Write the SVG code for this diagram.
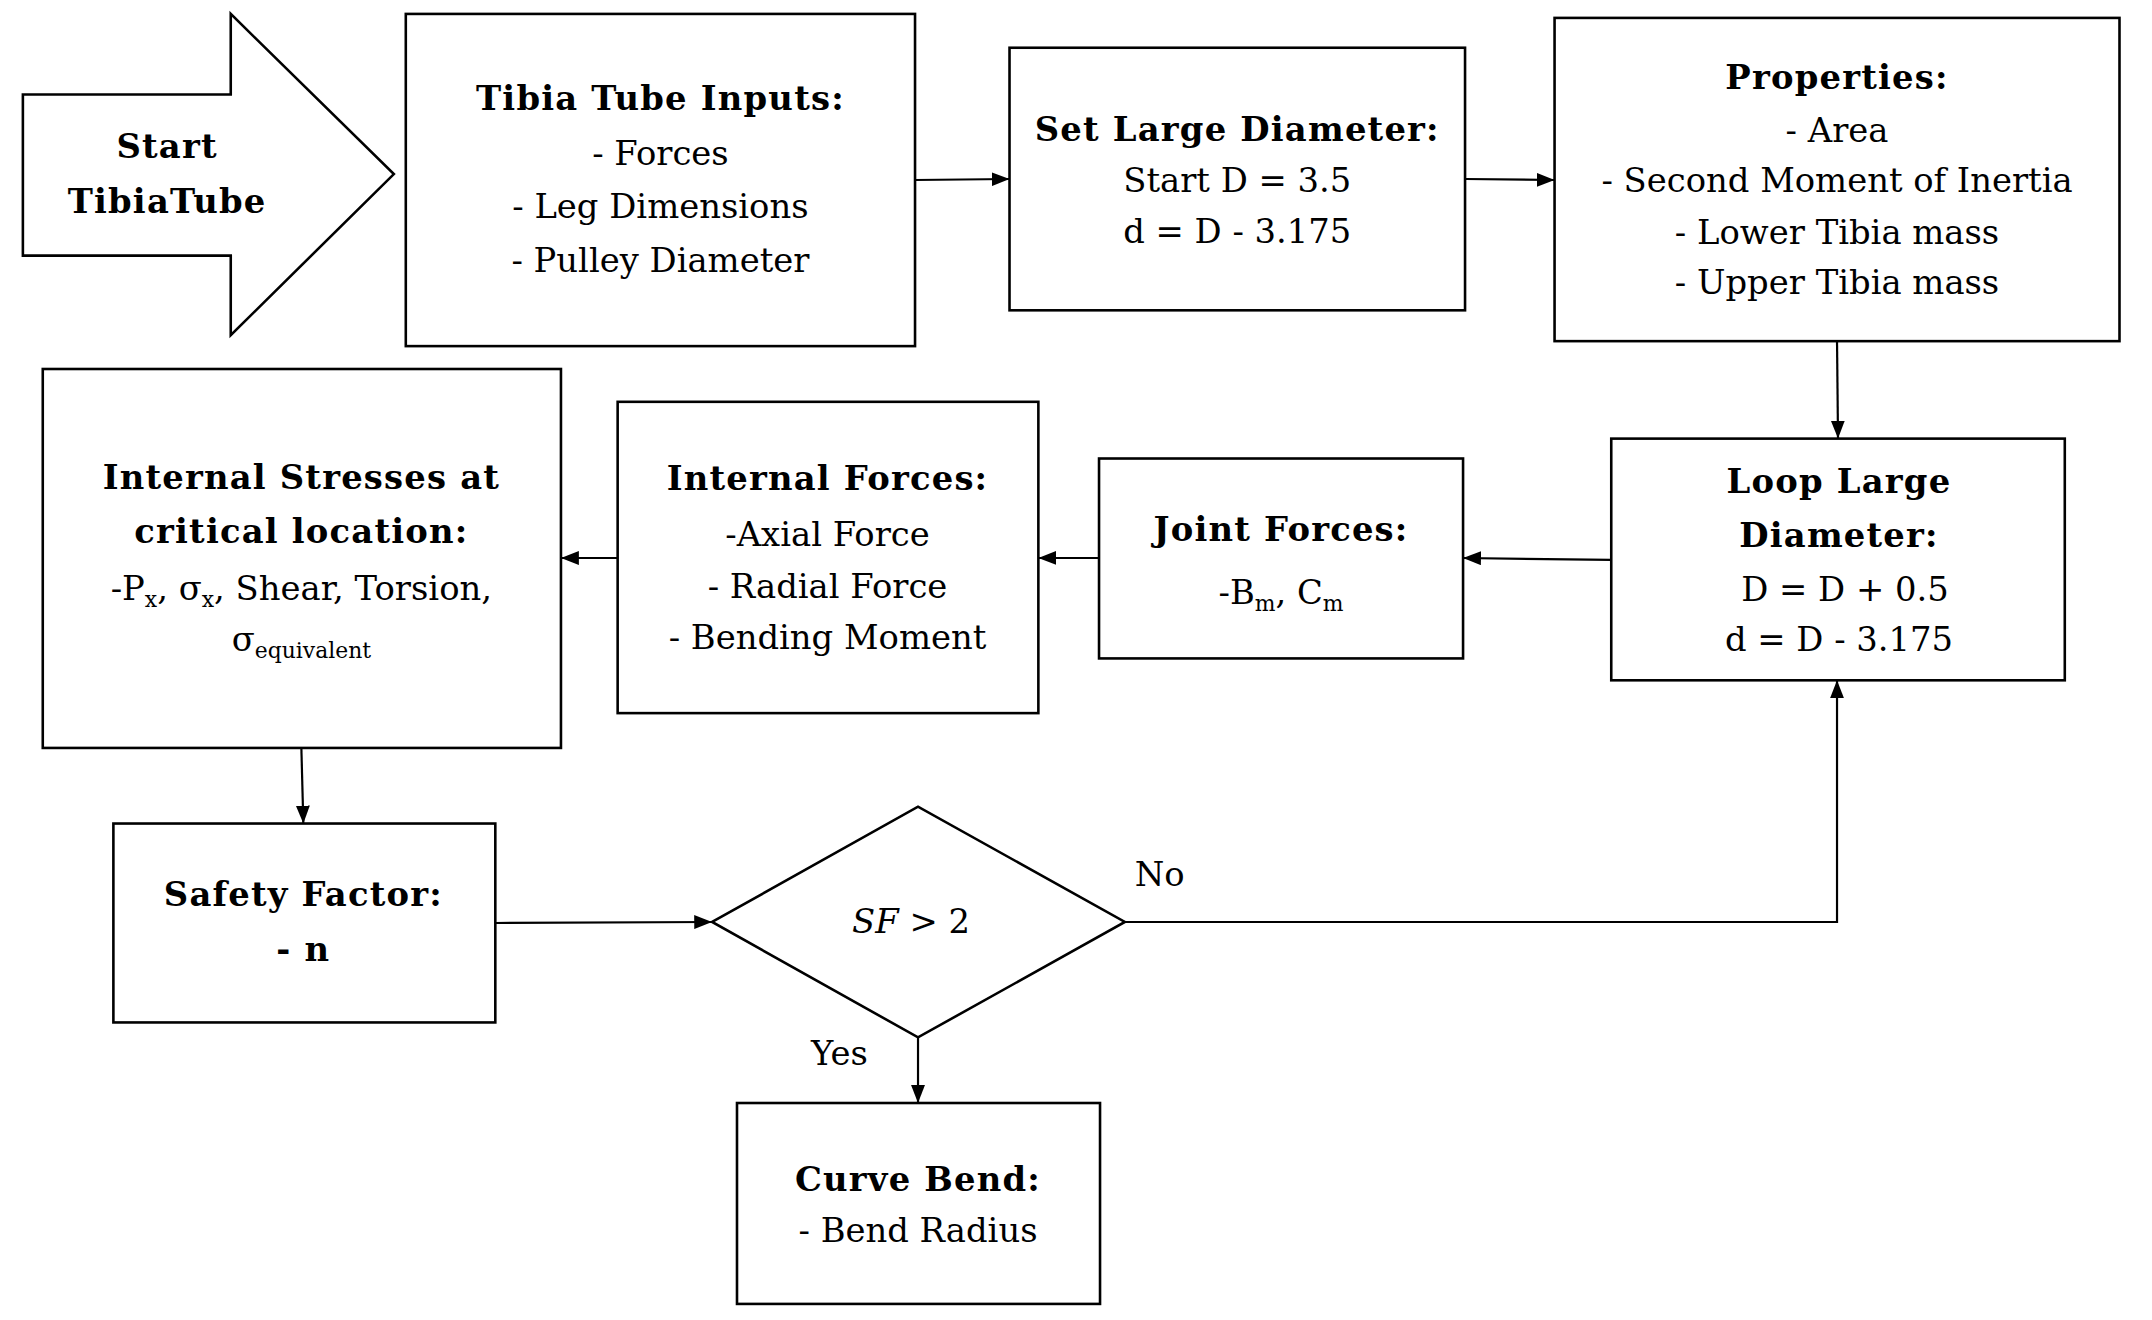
<svg xmlns="http://www.w3.org/2000/svg" width="2152" height="1320" viewBox="0 0 2152 1320">
<style>
  .box { fill: #ffffff; stroke: #000000; stroke-width: 2.6; }
  .t { font-family: "DejaVu Serif", "Liberation Serif", serif; font-size: 34px; fill: #000000; text-anchor: middle; }
  .b { font-weight: bold; letter-spacing: 1.2px; }
  .conn { fill: none; stroke: #000000; stroke-width: 2.2; }
  .sub { font-size: 22px; }
</style>
<defs>
  <marker id="ah" markerUnits="userSpaceOnUse" markerWidth="18" markerHeight="14" refX="18" refY="7" orient="auto">
    <path d="M0,0 L18,7 L0,14 z" fill="#000000"/>
  </marker>
</defs>
<rect x="0" y="0" width="2152" height="1320" fill="#ffffff"/>

<g id="diagram" transform="scale(0.9946)">
<g id="connectors">
  <line class="conn" x1="920" y1="181" x2="1015" y2="180" marker-end="url(#ah)"/>
  <line class="conn" x1="1473" y1="180" x2="1563" y2="181" marker-end="url(#ah)"/>
  <line class="conn" x1="1847" y1="343" x2="1848" y2="441" marker-end="url(#ah)"/>
  <line class="conn" x1="1620" y1="563" x2="1471" y2="561" marker-end="url(#ah)"/>
  <line class="conn" x1="1105" y1="561" x2="1044" y2="561" marker-end="url(#ah)"/>
  <line class="conn" x1="621" y1="561" x2="564" y2="561" marker-end="url(#ah)"/>
  <line class="conn" x1="303" y1="752" x2="305" y2="828" marker-end="url(#ah)"/>
  <line class="conn" x1="498" y1="928" x2="716" y2="927" marker-end="url(#ah)"/>
  <polyline class="conn" points="1131,927 1847,927 1847,684" marker-end="url(#ah)"/>
  <line class="conn" x1="923" y1="1043" x2="923" y2="1109" marker-end="url(#ah)"/>
  <text class="t" x="1166" y="891">No</text>
  <text class="t" x="844" y="1071">Yes</text>
</g>

<g id="start">
  <polygon class="box" points="23,95 232,95 232,14 396,175 232,337 232,257 23,257"/>
  <text class="t b" x="168" y="159">Start</text>
  <text class="t b" x="168" y="214">TibiaTube</text>
</g>

<g id="inputs">
  <rect class="box" x="408" y="14" width="512" height="334"/>
  <text class="t b" x="664" y="111">Tibia Tube Inputs:</text>
  <text class="t" x="664" y="166">- Forces</text>
  <text class="t" x="664" y="219">- Leg Dimensions</text>
  <text class="t" x="664" y="273">- Pulley Diameter</text>
</g>

<g id="setdiameter">
  <rect class="box" x="1015" y="48" width="458" height="264"/>
  <text class="t b" x="1244" y="142">Set Large Diameter:</text>
  <text class="t" x="1244" y="193">Start D = 3.5</text>
  <text class="t" x="1244" y="244">d = D - 3.175</text>
</g>

<g id="properties">
  <rect class="box" x="1563" y="18" width="568" height="325"/>
  <text class="t b" x="1847" y="89">Properties:</text>
  <text class="t" x="1847" y="143">- Area</text>
  <text class="t" x="1847" y="193">- Second Moment of Inertia</text>
  <text class="t" x="1847" y="245">- Lower Tibia mass</text>
  <text class="t" x="1847" y="296">- Upper Tibia mass</text>
</g>

<g id="loop">
  <rect class="box" x="1620" y="441" width="456" height="243"/>
  <text class="t b" x="1849" y="496">Loop Large</text>
  <text class="t b" x="1849" y="550">Diameter:</text>
  <text class="t" x="1855" y="604">D = D + 0.5</text>
  <text class="t" x="1849" y="655">d = D - 3.175</text>
</g>

<g id="joint">
  <rect class="box" x="1105" y="461" width="366" height="201"/>
  <text class="t b" x="1288" y="544">Joint Forces:</text>
  <text class="t" x="1288" y="607">-B<tspan class="sub" dy="7">m</tspan><tspan dy="-7">, C</tspan><tspan class="sub" dy="7">m</tspan></text>
</g>

<g id="internalforces">
  <rect class="box" x="621" y="404" width="423" height="313"/>
  <text class="t b" x="832" y="493">Internal Forces:</text>
  <text class="t" x="832" y="549">-Axial Force</text>
  <text class="t" x="832" y="601">- Radial Force</text>
  <text class="t" x="832" y="653">- Bending Moment</text>
</g>

<g id="stresses">
  <rect class="box" x="43" y="371" width="521" height="381"/>
  <text class="t b" x="303" y="492">Internal Stresses at</text>
  <text class="t b" x="303" y="546">critical location:</text>
  <text class="t" x="303" y="603">-P<tspan class="sub" dy="7">x</tspan><tspan dy="-7">, σ</tspan><tspan class="sub" dy="7">x</tspan><tspan dy="-7">, Shear, Torsion,</tspan></text>
  <text class="t" x="303" y="655">σ<tspan class="sub" dy="7">equivalent</tspan></text>
</g>

<g id="safety">
  <rect class="box" x="114" y="828" width="384" height="200"/>
  <text class="t b" x="305" y="911">Safety Factor:</text>
  <text class="t b" x="305" y="966">- n</text>
</g>

<g id="decision">
  <polygon class="box" points="716,927 923,811 1131,927 923,1043"/>
  <text class="t" x="916" y="938"><tspan font-style="italic">SF</tspan> &gt; 2</text>
</g>

<g id="curvebend">
  <rect class="box" x="741" y="1109" width="365" height="202"/>
  <text class="t b" x="923" y="1197">Curve Bend:</text>
  <text class="t" x="923" y="1249">- Bend Radius</text>
</g>
</g>
</svg>
